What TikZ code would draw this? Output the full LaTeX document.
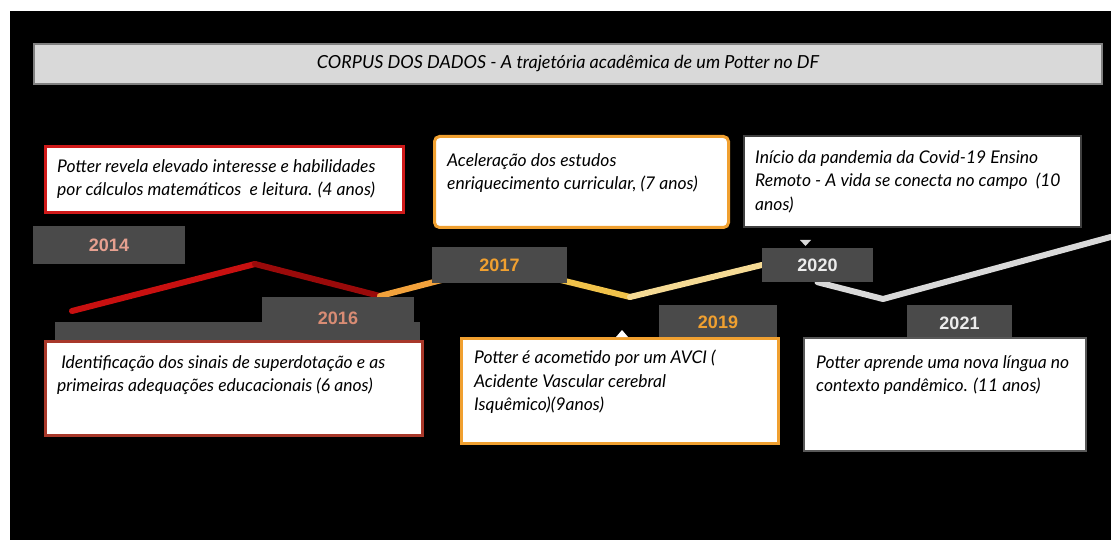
\documentclass[tikz,border=0pt]{standalone}
\usepackage{fontspec}
\setmainfont{Lato}
\setsansfont{Liberation Sans}
\usetikzlibrary{positioning,backgrounds}

\definecolor{yeargray}{HTML}{4A4A4A}
\definecolor{titlegray}{HTML}{D9D9D9}
\definecolor{salmon}{HTML}{E6A090}
\definecolor{rust}{HTML}{D98C74}
\definecolor{amber}{HTML}{F0A030}
\definecolor{boxred}{HTML}{D01A1A}
\definecolor{boxbrown}{HTML}{A8382A}
\definecolor{redA}{HTML}{C81010}
\definecolor{redB}{HTML}{9A0A0A}
\definecolor{lineorange}{HTML}{F2A23C}
\definecolor{linegold}{HTML}{F0C24A}
\definecolor{linepale}{HTML}{F5DA94}
\definecolor{linegray}{HTML}{D9D9D9}

\tikzset{
  titlebar/.style={fill=titlegray, draw=gray, line width=1.5pt,
    minimum width=1068pt, minimum height=40pt,
    font=\itshape\fontsize{18}{21}\selectfont},
  yearbox/.style={fill=yeargray, inner sep=0pt,
    font=\sffamily\bfseries\fontsize{18}{20}\selectfont},
  eventbox/.style={fill=white, line width=3pt, anchor=north west, inner sep=0pt},
  eventtext/.style={align=left, inner sep=0pt,
    font=\itshape\fontsize{17.5}{23.5}\selectfont},
  timeline/.style={line width=6pt, line cap=round, line join=round}
}

\begin{document}
\begin{tikzpicture}[x=1pt, y=-1pt]
  \useasboundingbox (0,0) rectangle (1111,540);
  \draw
    (568,64) node[titlebar] (title)
      {CORPUS DOS DADOS - A trajetória acadêmica de um Potter no DF}
    (109,245) node[yearbox, text=salmon, minimum width=152pt, minimum height=38pt] (y2014) {2014}
    (237.5,331) node[yearbox, minimum width=365pt, minimum height=18pt] (tab2016) {}
    (338,318.5) node[yearbox, text=rust, minimum width=152pt, minimum height=43pt] (y2016) {2016}
    (499.5,265) node[yearbox, text=amber, minimum width=135pt, minimum height=36pt] (y2017) {2017}
    (718,322.5) node[yearbox, text=amber, minimum width=118pt, minimum height=35pt] (y2019) {2019}
    (817.5,265) node[yearbox, text=white!92!black, minimum width=111pt, minimum height=34pt] (y2020) {2020}
    (959.5,323.5) node[yearbox, text=white!92!black, minimum width=105pt, minimum height=37pt] (y2021) {2021}
    (44,145) node[eventbox, draw=boxred, minimum width=358pt, minimum height=66pt] (ev2014) {}
    (44,340) node[eventbox, draw=boxbrown, minimum width=377pt, minimum height=94pt] (ev2016) {}
    (433,135) node[eventbox, draw=amber, rounded corners=5pt, minimum width=294pt, minimum height=91pt] (ev2017) {}
    (460,337) node[eventbox, draw=amber, minimum width=317pt, minimum height=105pt] (ev2019) {}
    (743,135) node[eventbox, draw=black!75, line width=2pt, minimum width=337pt, minimum height=91pt] (ev2020) {}
    (803,337) node[eventbox, draw=black!65, line width=2pt, minimum width=282pt, minimum height=113pt] (ev2021) {};

  \node[eventtext, below right=14pt and 13pt of ev2014.north west] (tx2014)
    {Potter revela elevado interesse e habilidades\\por cálculos matemáticos \ e leitura. (4 anos)};
  \node[eventtext, below right=15pt and 13pt of ev2016.north west] (tx2016)
    {\ Identificação dos sinais de superdotação e as\\primeiras adequações educacionais (6 anos)};
  \node[eventtext, below right=18pt and 14pt of ev2017.north west] (tx2017)
    {Aceleração dos estudos\\enriquecimento curricular, (7 anos)};
  \node[eventtext, below right=13pt and 14pt of ev2019.north west] (tx2019)
    {Potter é acometido por um AVCI (\\Acidente Vascular cerebral\\Isquêmico)(9anos)};
  \node[eventtext, below right=15pt and 12pt of ev2020.north west] (tx2020)
    {Início da pandemia da Covid-19 Ensino\\Remoto - A vida se conecta no campo \ (10\\anos)};
  \node[eventtext, below right=18pt and 13pt of ev2021.north west] (tx2021)
    {Potter aprende uma nova língua no\\contexto pandêmico. (11 anos)};

  % small pointers
  \fill[white] (616,337) -- (628,337) -- (622,330) -- cycle;
  \fill[linegray] (800,240) -- (811,240) -- (805.5,246) -- cycle;

  \begin{scope}[on background layer]
    \fill[black] (10,11) rectangle (1111,540);
    \coordinate (r0) at (72,311);
    \coordinate (r1) at (255,264);
    \coordinate (r2) at (380,296);
    \coordinate (w1) at (630,297);
    \coordinate (g1) at (883,299);
    \coordinate (g2) at (1118,235);
    \draw[timeline, redA] (r0) -- (r1);
    \draw[timeline, redB] (r1) -- (r2);
    \draw[timeline, lineorange] (r2) -- (y2017.center);
    \draw[timeline, linegold] (y2017.center) -- (w1);
    \draw[timeline, linepale] (w1) -- (y2020.west);
    \draw[timeline, linegray] (y2020.south) -- (g1) -- (g2);
  \end{scope}
\end{tikzpicture}
\end{document}
